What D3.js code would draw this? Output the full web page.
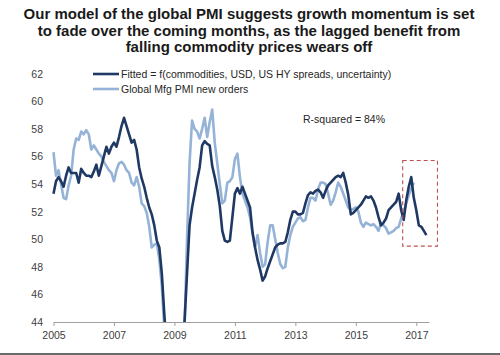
<!DOCTYPE html>
<html><head><meta charset="utf-8">
<script src="https://cdn.jsdelivr.net/npm/d3@7"></script>
<style>
html,body{margin:0;padding:0;background:#fff;}
svg{display:block;}
</style></head>
<body>
<script>
// ---- data (monthly, starting Jan 2005) ----
const startYear = 2005;
const fitted = [53.3,54.2,54.5,54.2,53.8,54.6,55.2,54.8,54.8,54.8,54.1,55.1,
54.8,54.6,54.6,54.5,54.9,55.4,54.6,55.3,56.0,56.7,56.2,56.7,
57.0,56.7,57.4,58.2,58.8,58.2,57.6,57.0,57.2,56.5,55.2,54.4,
53.8,53.0,52.3,51.8,51.0,49.9,49.4,47.5,44.5,42.0,40.0,38.5,
38.0,38.5,40.0,42.0,44.0,47.5,51.0,52.3,53.3,54.3,55.2,56.8,
57.1,56.9,56.8,55.3,54.5,53.6,52.4,50.6,49.9,49.8,49.9,51.6,
53.3,53.7,53.3,53.8,53.3,52.8,52.3,50.5,49.4,48.5,47.8,47.0,
47.3,47.9,48.4,48.9,49.4,49.6,49.7,49.7,49.8,50.5,51.4,52.0,
52.0,51.8,51.8,51.9,52.6,53.2,53.4,53.3,53.5,53.6,53.4,53.0,
53.5,53.9,54.1,54.3,54.5,54.6,54.5,54.8,54.1,53.2,51.8,51.9,
52.1,52.3,52.5,52.8,53.1,53.0,53.1,52.8,52.3,51.6,51.0,51.2,
51.5,52.1,52.3,52.5,52.7,53.3,52.1,51.4,52.8,53.8,54.5,53.0,
52.1,51.0,50.9,50.6,50.3];
const newOrders = [56.3,54.6,55.0,54.0,53.0,52.9,53.9,54.6,56.5,57.3,57.2,57.8,
57.6,57.9,57.6,56.5,56.8,56.5,56.2,56.0,55.6,55.3,55.0,54.8,
54.2,55.0,55.5,55.6,55.4,55.0,54.8,54.1,53.9,54.5,53.8,52.6,
52.4,51.9,50.9,49.4,49.6,49.7,48.5,46.6,43.5,41.0,39.0,37.5,
37.0,38.0,40.0,42.0,43.5,50.0,55.5,58.6,58.0,57.8,57.3,58.0,
58.8,57.4,58.5,59.4,57.0,55.5,54.0,52.6,52.8,54.1,54.2,54.5,
55.8,56.2,54.5,53.3,52.8,52.3,51.6,50.4,49.4,50.3,49.0,48.0,
48.2,49.8,51.0,51.0,50.0,49.0,48.2,47.9,48.0,49.4,50.3,50.9,
51.2,51.5,51.6,51.3,51.4,52.3,53.0,53.0,52.8,53.6,54.1,54.1,
54.0,53.3,52.5,52.8,53.4,54.1,53.8,53.3,52.8,52.3,52.1,52.2,
52.3,52.0,51.2,50.9,51.2,51.1,51.0,51.1,50.9,50.6,51.2,51.0,
50.8,50.4,50.5,50.6,50.8,50.9,51.5,52.0,52.6,53.2,53.7,54.1];
const yTicks = [44,46,48,50,52,54,56,58,60,62];
const xTickYears = [2005,2007,2009,2011,2013,2015,2017];
const seriesNames = ["Fitted = f(commodities, USD, US HY spreads, uncertainty)", "Global Mfg PMI new orders"];
const titleLines = ["Our model of the global PMI suggests growth momentum is set",
  "to fade over the coming months, as the lagged benefit from",
  "falling commodity prices wears off"];
const annotation = "R-squared = 84%";
const highlightRange = {from: 2016.55, to: 2017.7, low: 49.5, high: 55.7};

// ---- chart ----
const W = 500, H = 355;
const svg = d3.select("body").append("svg").attr("width", W).attr("height", H);
const font = "'Liberation Sans', Arial, sans-serif";

const x = d3.scaleLinear().domain([2005, 2017.42]).range([53.5, 429]);
const y = d3.scaleLinear().domain([44, 62]).range([322, 73.6]);

// title
svg.append("g").selectAll("text").data(titleLines).join("text")
  .attr("x", 249).attr("y", (d,i) => 19 + i*16.5)
  .attr("text-anchor", "middle")
  .attr("font-family", font).attr("font-weight", "bold").attr("font-size", 15)
  .attr("fill", "#1a1a1a").text(d => d);

// y labels
svg.append("g").selectAll("text").data(yTicks).join("text")
  .attr("x", 43).attr("y", d => y(d) + 4)
  .attr("text-anchor", "end")
  .attr("font-family", font).attr("font-size", 10.5).attr("fill", "#404040")
  .text(d => d);

// x axis
const xAxis = d3.axisBottom(x).tickValues(xTickYears).tickFormat(d3.format("d")).tickSize(4).tickSizeOuter(0);
const gx = svg.append("g").attr("transform", "translate(0,322)").call(xAxis);
gx.select(".domain").attr("stroke", "#a0a0a0").attr("stroke-width", 1);
gx.selectAll(".tick line").attr("stroke", "#a0a0a0");
gx.selectAll(".tick text").attr("font-family", font).attr("font-size", 10.5).attr("fill", "#404040").attr("dy", "0.95em");

// clip
svg.append("defs").append("clipPath").attr("id", "plot")
  .append("rect").attr("x", 40).attr("y", y(62)).attr("width", 420).attr("height", y(44) - y(62));

const line = d3.line().x((d,i) => x(startYear + i/12)).y(d => y(d));
const plot = svg.append("g").attr("clip-path", "url(#plot)");
plot.append("path").datum(newOrders).attr("d", line)
  .attr("fill", "none").attr("stroke", "#95b3d7").attr("stroke-width", 2.6).attr("stroke-linejoin", "round");
plot.append("path").datum(fitted).attr("d", line)
  .attr("fill", "none").attr("stroke", "#1f3864").attr("stroke-width", 2.6).attr("stroke-linejoin", "round");

// highlight box
svg.append("rect")
  .attr("x", x(highlightRange.from)).attr("y", y(highlightRange.high))
  .attr("width", x(highlightRange.to) - x(highlightRange.from))
  .attr("height", y(highlightRange.low) - y(highlightRange.high))
  .attr("fill", "none").attr("stroke", "#c0504d").attr("stroke-width", 1.1).attr("stroke-dasharray", "4,3");

// legend
const legColors = ["#1f3864", "#95b3d7"];
const leg = svg.append("g").selectAll("g").data(seriesNames).join("g")
  .attr("transform", (d,i) => `translate(93,${74 + i*15})`);
leg.append("line").attr("x1", 0).attr("x2", 26).attr("y1", 0).attr("y2", 0)
  .attr("stroke", (d,i) => legColors[i]).attr("stroke-width", 2.6);
leg.append("text").attr("x", 28).attr("y", 4)
  .attr("font-family", font).attr("font-size", 10.5).attr("fill", "#262626").text(d => d);

// annotation
svg.append("text").attr("x", 303).attr("y", 123)
  .attr("font-family", font).attr("font-size", 10.5).attr("fill", "#262626").text(annotation);

// bottom border
svg.append("rect").attr("x", 0).attr("y", 353).attr("width", W).attr("height", 2).attr("fill", "#6b6b6b");
</script>
</body></html>
